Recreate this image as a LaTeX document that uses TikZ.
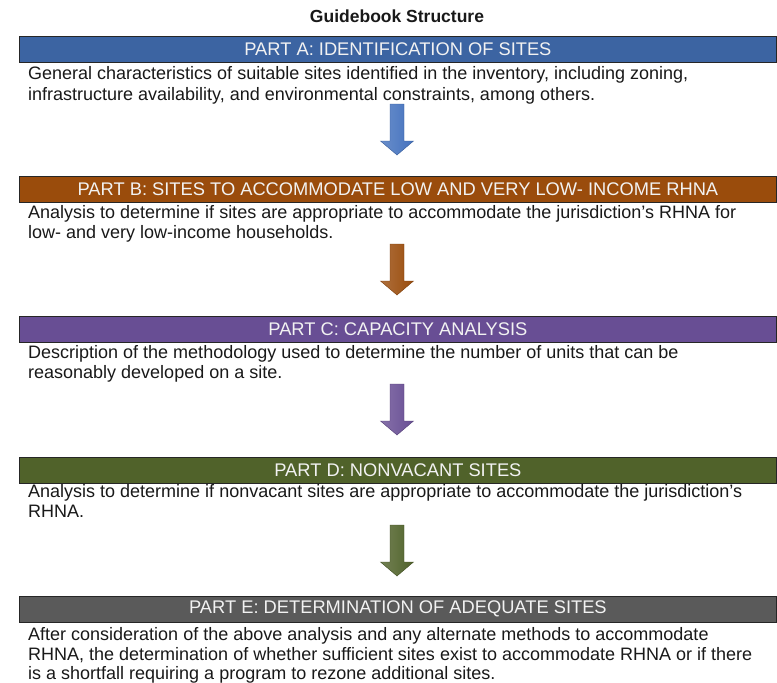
\documentclass[tikz,border=0pt]{standalone}
\usepackage{fontspec}
\setmainfont{Liberation Sans}
\definecolor{cA}{RGB}{60,100,162}
\definecolor{cB}{RGB}{154,76,12}
\definecolor{cC}{RGB}{104,78,148}
\definecolor{cD}{RGB}{80,98,42}
\definecolor{cE}{RGB}{90,90,90}
\definecolor{aA}{RGB}{68,114,190}
\definecolor{txt}{RGB}{25,25,25}
\begin{document}
\begin{tikzpicture}[x=1pt,y=-1pt,
  bar/.style={draw=black!85, line width=0.8pt, minimum width=757pt, minimum height=25.5pt,
    anchor=north west, inner sep=0pt, text=white!95!black, font=\fontsize{18.3}{21}\selectfont},
  body/.style={anchor=base west, inner sep=0pt, text=txt, font=\fontsize{18}{20}\selectfont},
  blockarrow/.pic={
    \shade[left color=#1!80!white, right color=#1, draw=#1!80!black, line width=0.4pt]
      (-7,0) -- (7,0) -- (7,37) -- (16.5,37) -- (0,51) -- (-16.5,37) -- (-7,37) -- cycle;
  }]
\useasboundingbox (0,0) rectangle (777,683);
\fill[white] (0,0) rectangle (777,683);

\node[anchor=base, inner sep=0pt, font=\bfseries\fontsize{17.5}{20}\selectfont, text=txt] (title) at (397,22) {Guidebook Structure};

% Part A
\node[bar, fill=cA] (barA) at (19,36) {PART A: IDENTIFICATION OF SITES};
\node[body] (tA1) at (28,79) {General characteristics of suitable sites identified in the inventory, including zoning,};
\node[body] (tA2) at (28,100) {infrastructure availability, and environmental constraints, among others.};
\coordinate (arA) at (397,104);
\pic at (arA) {blockarrow=aA};

% Part B
\node[bar, fill=cB] (barB) at (19,176) {PART B: SITES TO ACCOMMODATE LOW AND VERY LOW- INCOME RHNA};
\node[body] (tB1) at (28,218) {Analysis to determine if sites are appropriate to accommodate the jurisdiction’s RHNA for};
\node[body] (tB2) at (28,238) {low- and very low-income households.};
\coordinate (arB) at (397,244);
\pic at (arB) {blockarrow=cB};

% Part C
\node[bar, fill=cC] (barC) at (19,316) {PART C: CAPACITY ANALYSIS};
\node[body] (tC1) at (28,358) {Description of the methodology used to determine the number of units that can be};
\node[body] (tC2) at (28,378) {reasonably developed on a site.};
\coordinate (arC) at (397,384);
\pic at (arC) {blockarrow=cC};

% Part D
\node[bar, fill=cD] (barD) at (19,457) {PART D: NONVACANT SITES};
\node[body] (tD1) at (28,497) {Analysis to determine if nonvacant sites are appropriate to accommodate the jurisdiction’s};
\node[body] (tD2) at (28,517) {RHNA.};
\coordinate (arD) at (397,525);
\pic at (arD) {blockarrow=cD};

% Part E
\node[bar, fill=cE] (barE) at (19,596) {PART E: DETERMINATION OF ADEQUATE SITES};
\node[body] (tE1) at (28,640) {After consideration of the above analysis and any alternate methods to accommodate};
\node[body] (tE2) at (28,660) {RHNA, the determination of whether sufficient sites exist to accommodate RHNA or if there};
\node[body] (tE3) at (28,679) {is a shortfall requiring a program to rezone additional sites.};
\end{tikzpicture}
\end{document}
